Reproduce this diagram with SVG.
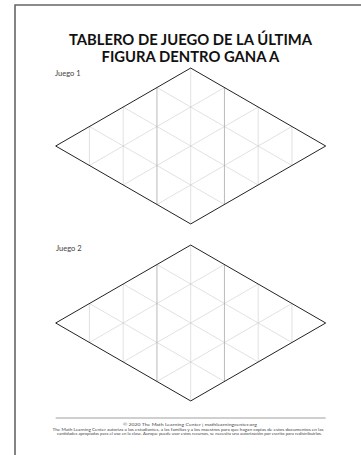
<svg xmlns="http://www.w3.org/2000/svg" xmlns:xlink="http://www.w3.org/1999/xlink" width="361" height="455" viewBox="0 0 361 455">
<style>
.title{font-family:Lato,"Liberation Sans",sans-serif;font-weight:bold;font-size:14.8px;fill:#111;text-anchor:middle}
.label{font-family:Lato,"Liberation Sans",sans-serif;font-size:7.5px;fill:#444444}
.foot{font-family:Lato,"Liberation Sans",sans-serif;fill:#444;text-anchor:middle}
.grid{stroke:#cdcdcd;stroke-width:0.6;fill:none}
.gridd{stroke:#a8a8a8;stroke-width:0.8;fill:none}
.outline{stroke:#222;stroke-width:1;fill:none;stroke-linejoin:miter}
</style>
<defs>
<g id="board">
<path class="grid" d="M-101.25,-19.49L33.75,58.46M-67.5,-38.97L67.5,38.97M-33.75,-58.46L101.25,19.49M-101.25,19.49L33.75,-58.46M-67.5,38.97L67.5,-38.97M-33.75,58.46L101.25,-19.49M-101.25,-19.49V19.49M-67.5,-38.97V38.97M0,-77.94V77.94M67.5,-38.97V38.97M101.25,-19.49V19.49"/>
<path class="gridd" d="M-33.75,-58.46V58.46M33.75,-58.46V58.46"/>
<path class="outline" d="M-135,0L0,-77.94L135,0L0,77.94Z"/>
</g>
</defs>
<g id="page">
<path d="M15,455V5H361" fill="none" stroke="#666" stroke-width="1.6"/>
</g>
<g id="title">
<text class="title" x="190.5" y="45">TABLERO DE JUEGO DE LA ÚLTIMA</text>
<text class="title" x="190.5" y="62">FIGURA DENTRO GANA A</text>
</g>
<g id="game1">
<text class="label" x="55" y="76" fill="#444">Juego 1</text>
<use xlink:href="#board" href="#board" transform="translate(190.7,146)"/>
</g>
<g id="game2">
<text class="label" x="56" y="251" fill="#444">Juego 2</text>
<use xlink:href="#board" href="#board" transform="translate(190.7,323)"/>
</g>
<g id="connectors"></g>
<g id="footer">
<line x1="55.7" y1="418" x2="325.7" y2="418" stroke="#888" stroke-width="0.8"/>
<text class="foot" x="190" y="425.5" font-size="4.6" textLength="134" lengthAdjust="spacingAndGlyphs">© 2020 The Math Learning Center | mathlearningcenter.org</text>
<text class="foot" x="188" y="430.8" font-size="3.8" textLength="271" lengthAdjust="spacingAndGlyphs">The Math Learning Center autoriza a los estudiantes, a las familias y a los maestros para que hagan copias de estos documentos en las</text>
<text class="foot" x="189.5" y="435.4" font-size="3.8" textLength="265" lengthAdjust="spacingAndGlyphs">cantidades apropiadas para el uso en la clase. Aunque puede usar estos recursos, se necesita una autorización por escrito para redistribuirlos.</text>
</g>
</svg>
